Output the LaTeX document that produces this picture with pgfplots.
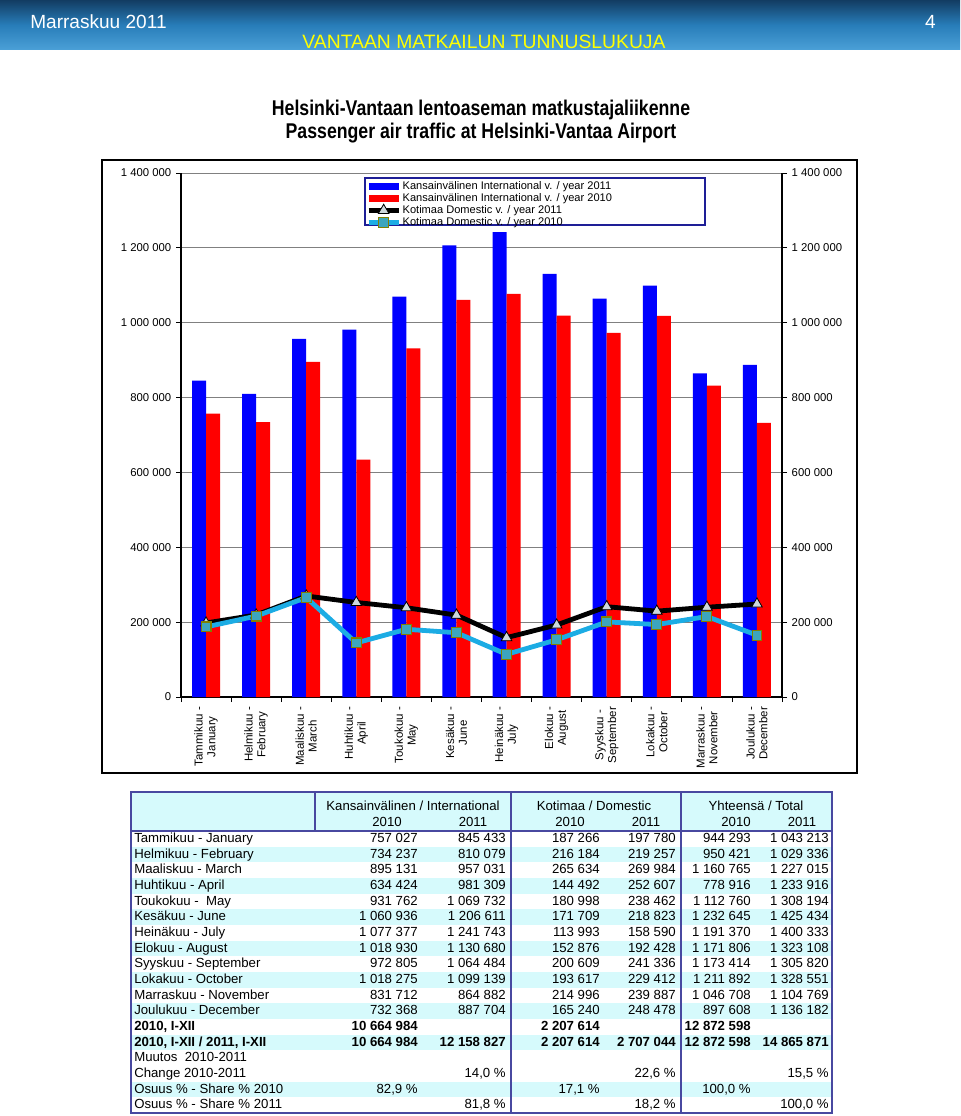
\documentclass[border=0pt]{standalone}
\usepackage{pgfplots}
\usepackage{pgfplotstable}
\pgfplotsset{compat=1.18}
\usepackage{fontspec}
\setmainfont{Liberation Sans}

\definecolor{intblue}{RGB}{0,0,255}
\definecolor{intred}{RGB}{255,0,0}
\definecolor{domcyan}{RGB}{28,172,228}
\definecolor{sqfill}{RGB}{60,165,190}
\definecolor{sqedge}{RGB}{128,128,0}
\definecolor{trifill}{RGB}{205,215,220}
\definecolor{tabline}{RGB}{72,72,160}
\definecolor{tabfill}{RGB}{214,250,252}
\definecolor{legline}{RGB}{30,30,150}
\definecolor{bantop}{RGB}{18,60,98}
\definecolor{banmid}{RGB}{40,125,185}
\definecolor{banbot}{RGB}{75,160,215}
\definecolor{banyellow}{RGB}{255,255,0}

\pgfplotsset{
  linelegend/.style={legend image code/.code={\draw[mark repeat=2,mark phase=2,##1] plot coordinates {(0pt,0pt) (11.25pt,0pt) (22.5pt,0pt)};}},
  barlegend/.style={legend image code/.code={\fill[#1] (0pt,-2.6pt) rectangle (22.5pt,2.6pt);}},
}

\pgfplotstableread{
x int11 int10 dom11 dom10
0 845433 757027 197780 187266
1 810079 734237 219257 216184
2 957031 895131 269984 265634
3 981309 634424 252607 144492
4 1069732 931762 238462 180998
5 1206611 1060936 218823 171709
6 1241743 1077377 158590 113993
7 1130680 1018930 192428 152876
8 1064484 972805 241336 200609
9 1099139 1018275 229412 193617
10 864882 831712 239887 214996
11 887704 732368 248478 165240
}\datatable

\def\cA{418}\def\cB{506}\def\cC{600}\def\cD{676}\def\cE{751}\def\cF{829}
\tikzset{tcell/.style={inner sep=0pt, text height=7pt, text depth=1.5pt, font=\fontsize{9.9}{11}\selectfont}}
\newcommand\trow[8][]{%
  \pgfmathsetmacro\yc{831+15.67*(#2+0.5)}%
  \node[tcell,#1,anchor=west] at (134,\yc) {#3};%
  \node[tcell,#1,anchor=east] at (\cA,\yc) {#4};%
  \node[tcell,#1,anchor=east] at (\cB,\yc) {#5};%
  \node[tcell,#1,anchor=east] at (\cC,\yc) {#6};%
  \node[tcell,#1,anchor=east] at (\cD,\yc) {#7};%
  \node[tcell,#1,anchor=east] at (\cE,\yc) {#8};%
}
\newcommand\lastcol[3][]{%
  \pgfmathsetmacro\yc{831+15.67*(#2+0.5)}%
  \node[tcell,#1,anchor=east] at (\cF,\yc) {#3};%
}

\begin{document}
\begin{tikzpicture}
\fill[white] (0,0) rectangle (720pt,-837pt);
\useasboundingbox (0,0) rectangle (720pt,-837pt);
\begin{scope}[x=0.75pt,y=-0.75pt]
  % banner
  \shade[top color=bantop, bottom color=banbot, middle color=banmid] (0,0) rectangle (960,50);
  \node[white, anchor=west, inner sep=0pt, font=\fontsize{14.3}{16}\selectfont] at (30,22) {Marraskuu 2011};
  \node[white, anchor=east, inner sep=0pt, font=\fontsize{14.3}{16}\selectfont] at (936,22) {4};
  \node[banyellow, inner sep=0pt, font=\fontsize{14.5}{16}\selectfont] at (484,42) {VANTAAN MATKAILUN TUNNUSLUKUJA};
  % title
  \node[font=\bfseries\fontsize{16}{18}\selectfont, inner sep=0pt] at (481,110) {\scalebox{0.83}[1]{Helsinki-Vantaan lentoaseman matkustajaliikenne}};
  \node[font=\bfseries\fontsize{16}{18}\selectfont, inner sep=0pt] at (481,133) {\scalebox{0.83}[1]{Passenger air traffic at Helsinki-Vantaa Airport}};
  % chart frame
  \draw[black, line width=1.3] (102,160) rectangle (857,773);
  % legend frame
  \draw[legline, line width=1.3] (365,178) rectangle (705,225);
  % table
  \fill[tabfill] (131,792) rectangle (832,831);
  \foreach \i in {1,3,5,7,9,11,13,16} {
    \fill[tabfill] (131,{831+15.67*\i}) rectangle (832,{831+15.67*(\i+1)});
  }
  \draw[tabline, line width=1.2] (131,792) rectangle (832,1113);
  \draw[tabline, line width=1.2] (131,831) -- (832,831);
  \draw[tabline, line width=1.2] (315,792) -- (315,831);
  \draw[tabline, line width=1.2] (511,792) -- (511,1113);
  \draw[tabline, line width=1.2] (681,792) -- (681,1113);
  \node[tcell] at (413,807) {Kansainvälinen / International};
  \node[tcell] at (594,807) {Kotimaa / Domestic};
  \node[tcell] at (756,807) {Yhteensä / Total};
  \node[tcell] at (387,823) {2010};
  \node[tcell] at (473,823) {2011};
  \node[tcell] at (570,823) {2010};
  \node[tcell] at (646,823) {2011};
  \node[tcell] at (736,823) {2010};
  \node[tcell] at (802,823) {2011};
  \trow{0}{Tammikuu - January}{757 027}{845 433}{187 266}{197 780}{944 293}\lastcol{0}{1 043 213}
  \trow{1}{Helmikuu - February}{734 237}{810 079}{216 184}{219 257}{950 421}\lastcol{1}{1 029 336}
  \trow{2}{Maaliskuu - March}{895 131}{957 031}{265 634}{269 984}{1 160 765}\lastcol{2}{1 227 015}
  \trow{3}{Huhtikuu - April}{634 424}{981 309}{144 492}{252 607}{778 916}\lastcol{3}{1 233 916}
  \trow{4}{Toukokuu -\ \ May}{931 762}{1 069 732}{180 998}{238 462}{1 112 760}\lastcol{4}{1 308 194}
  \trow{5}{Kesäkuu - June}{1 060 936}{1 206 611}{171 709}{218 823}{1 232 645}\lastcol{5}{1 425 434}
  \trow{6}{Heinäkuu - July}{1 077 377}{1 241 743}{113 993}{158 590}{1 191 370}\lastcol{6}{1 400 333}
  \trow{7}{Elokuu - August}{1 018 930}{1 130 680}{152 876}{192 428}{1 171 806}\lastcol{7}{1 323 108}
  \trow{8}{Syyskuu - September}{972 805}{1 064 484}{200 609}{241 336}{1 173 414}\lastcol{8}{1 305 820}
  \trow{9}{Lokakuu - October}{1 018 275}{1 099 139}{193 617}{229 412}{1 211 892}\lastcol{9}{1 328 551}
  \trow{10}{Marraskuu - November}{831 712}{864 882}{214 996}{239 887}{1 046 708}\lastcol{10}{1 104 769}
  \trow{11}{Joulukuu - December}{732 368}{887 704}{165 240}{248 478}{897 608}\lastcol{11}{1 136 182}
  \trow[font=\bfseries\fontsize{9.9}{11}\selectfont]{12}{2010, I-XII}{10 664 984}{}{2 207 614}{}{12 872 598}
  \trow[font=\bfseries\fontsize{9.9}{11}\selectfont]{13}{2010, I-XII / 2011, I-XII}{10 664 984}{12 158 827}{2 207 614}{2 707 044}{12 872 598}\lastcol[font=\bfseries\fontsize{9.9}{11}\selectfont]{13}{14 865 871}
  \trow{14}{Muutos\ \ 2010-2011}{}{}{}{}{}
  \trow{15}{Change 2010-2011}{}{14,0 \%}{}{22,6 \%}{}\lastcol{15}{15,5 \%}
  \trow{16}{Osuus \% - Share \% 2010}{82,9 \%}{}{17,1 \%}{}{100,0 \%}
  \trow{17}{Osuus \% - Share \% 2011}{}{81,8 \%}{}{18,2 \%}{}\lastcol{17}{100,0 \%}
\end{scope}

\begin{axis}[
  at={(135.75pt,-522.75pt)}, anchor=south west,
  scale only axis, width=450.75pt, height=393pt,
  xmin=-0.5, xmax=11.5, ymin=0, ymax=1400000,
  axis x line*=bottom, axis y line*=left,
  axis line style={-, black, line width=0.8pt},
  xtick={-0.5,0.5,...,11.5}, xticklabels={},
  extra x ticks={0,1,2,3,4,5,6,7,8,9,10,11},
  extra x tick labels={{Tammikuu -\\January},{Helmikuu -\\February},{Maaliskuu -\\March},{Huhtikuu -\\April},{Toukokuu -\\May},{Kesäkuu -\\June},{Heinäkuu -\\July},{Elokuu -\\August},{Syyskuu -\\September},{Lokakuu -\\October},{Marraskuu -\\November},{Joulukuu -\\December}},
  extra x tick style={major tick length=0pt, tick label style={yshift=-4pt, rotate=90, anchor=east, align=center, font=\fontsize{8.6}{9.6}\selectfont}},
  ytick={0,200000,400000,600000,800000,1000000,1200000,1400000},
  yticklabels={0,200 000,400 000,600 000,800 000,1 000 000,1 200 000,1 400 000},
  scaled y ticks=false,
  tick align=outside, major tick length=3.75pt,
  tick style={black, line width=0.6pt},
  yticklabel style={font=\fontsize{8.5}{9}\selectfont},
  ymajorgrids, major grid style={gray, line width=0.6pt},
  legend style={at={(axis description cs:0.3078,0.9866)}, anchor=north west, draw=none, fill=none,
    font=\fontsize{8.3}{9}\selectfont, row sep=-1.1pt, inner sep=0pt, nodes={inner sep=1.2pt}},
  legend cell align=left,
]
\addplot[ybar, bar width=10.5pt, bar shift=-5.25pt, fill=intblue, draw=none, barlegend=intblue]
  table[x=x,y=int11]{\datatable};
\addlegendentry{Kansainvälinen International v. / year 2011}
\addplot[ybar, bar width=10.5pt, bar shift=5.25pt, fill=intred, draw=none, barlegend=intred]
  table[x=x,y=int10]{\datatable};
\addlegendentry{Kansainvälinen International v. / year 2010}
\addplot[black, line width=3.6pt, mark=triangle*, mark size=4.6pt,
  mark options={solid, fill=trifill, draw=black, line width=0.6pt}, linelegend]
  table[x=x,y=dom11]{\datatable};
\addlegendentry{Kotimaa Domestic v. / year 2011}
\addplot[domcyan, line width=3.6pt, mark=square*, mark size=3.7pt,
  mark options={solid, fill=sqfill, draw=sqedge, line width=0.8pt}, linelegend]
  table[x=x,y=dom10]{\datatable};
\addlegendentry{Kotimaa Domestic v. / year 2010}
\end{axis}

\begin{axis}[
  at={(135.75pt,-522.75pt)}, anchor=south west,
  scale only axis, width=450.75pt, height=393pt,
  xmin=-0.5, xmax=11.5, ymin=0, ymax=1400000,
  axis x line=none, axis y line*=right,
  axis line style={-, black, line width=0.8pt},
  ytick={0,200000,400000,600000,800000,1000000,1200000,1400000},
  yticklabels={0,200 000,400 000,600 000,800 000,1 000 000,1 200 000,1 400 000},
  scaled y ticks=false,
  tick align=outside, major tick length=3.75pt,
  tick style={black, line width=0.6pt},
  yticklabel style={font=\fontsize{8.5}{9}\selectfont},
]
\addplot[draw=none, forget plot] coordinates {(0,0)};
\end{axis}
\end{tikzpicture}
\end{document}
